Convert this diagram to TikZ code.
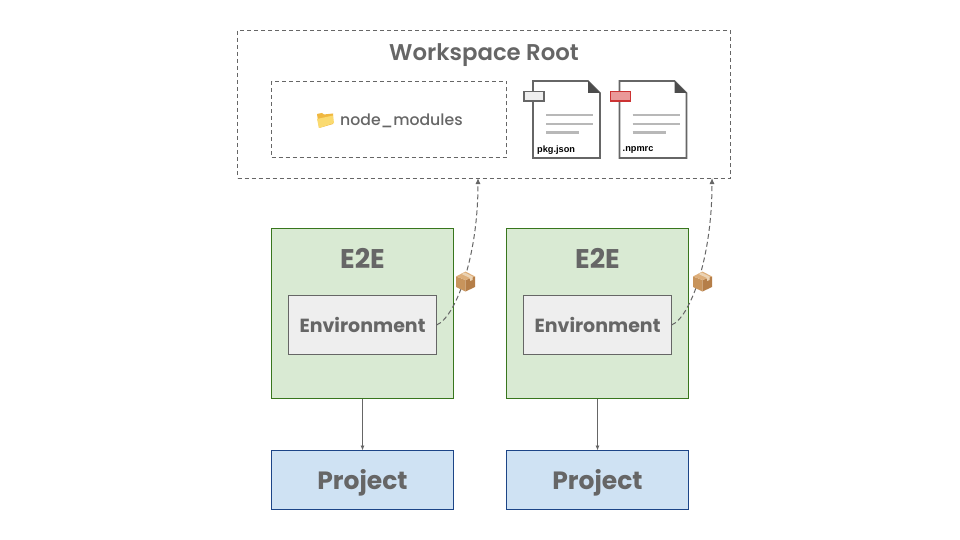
\documentclass[tikz,border=0pt]{standalone}
\usepackage{fontspec}
\setmainfont{Poppins}
\newfontfamily\mediumfont{Poppins Medium}
\newfontfamily\semifont{Poppins SemiBold}
\newfontfamily\labelfont{Liberation Sans}
\usetikzlibrary{arrows.meta}
\definecolor{txt}{HTML}{666666}
\definecolor{greenfill}{HTML}{D9EAD3}
\definecolor{greenline}{HTML}{38761D}
\definecolor{bluefill}{HTML}{CFE2F3}
\definecolor{blueline}{HTML}{1C4587}
\definecolor{envfill}{HTML}{EEEEEE}
\definecolor{boxleft}{HTML}{C8945C}
\definecolor{boxright}{HTML}{B57E48}
\definecolor{boxtop}{HTML}{DDAE7A}
\definecolor{boxtape}{HTML}{EBD3B4}
\definecolor{docred}{HTML}{CC3333}
\definecolor{docredfill}{HTML}{EA9999}
\definecolor{folderback}{HTML}{F0B840}
\definecolor{folderfront}{HTML}{FADA70}
\tikzset{
  box/.style={rectangle,inner sep=0pt,outer sep=0pt,line width=.9pt,text=txt,font=\fontsize{25}{29}\selectfont\bfseries},
  dashbox/.style={box,draw=txt,line width=.8pt,dash pattern=on 4pt off 3pt,minimum width=#1},
  e2e/.style={box,draw=greenline,fill=greenfill,minimum width=182pt,minimum height=170pt},
  env/.style={box,draw=txt,fill=envfill,minimum width=148pt,minimum height=59pt,font=\fontsize{19}{23}\selectfont\bfseries},
  proj/.style={box,draw=blueline,fill=bluefill,minimum width=182pt,minimum height=59pt},
  title/.style={inner sep=0pt,text=txt,font=\fontsize{27}{31}\selectfont\bfseries},
  solidarrow/.style={draw=txt,line width=.8pt,-{Latex[length=5pt,width=4pt]}},
  dasharrow/.style={draw=txt,line width=1pt,dash pattern=on 5pt off 3pt,-{Latex[length=6pt,width=5pt]}},
  docline/.style={draw=black!60,line width=1.6pt},
  textline/.style={draw=black!28,line width=2.8pt}
}
\newcommand{\docicon}[5]{%
  \begin{scope}[shift={(#1,81)}]
    \draw[docline,fill=white,line join=miter] (0,0) -- (55,0) -- (67,12) -- (67,77) -- (0,77) -- cycle;
    \fill[black!70] (55,0) -- (67,12) -- (55,12) -- cycle;
    \draw[textline] (13,34) -- (60,34);
    \draw[textline] (13,43) -- (60,43);
    \draw[textline] (13,51.5) -- (46,51.5);
    \draw[#3,fill=#4,line width=1.6pt] (-9,10.5) rectangle (11,20);
    \node[anchor=west,inner sep=0pt,text=black,font=\labelfont\fontsize{9.2}{11}\selectfont\bfseries] at (#5,69) {#2};
  \end{scope}}
\newcommand{\boxicon}[2]{%
  \begin{scope}[shift={(#1,#2)}]
    \fill[boxleft] (-9.5,-4.5) -- (0,-1) -- (0,10.5) -- (-9.5,6) -- cycle;
    \fill[boxright] (0,-1) -- (9.5,-4.5) -- (9.5,6) -- (0,10.5) -- cycle;
    \fill[boxtop] (-9.5,-4.5) -- (0,-9.5) -- (9.5,-4.5) -- (0,-1) -- cycle;
    \fill[boxtape] (-4,-7) -- (-1,-8.5) -- (7,-4.5) -- (7,-1) -- (4.5,0) -- (4.5,-3) -- cycle;
  \end{scope}}
\begin{document}
\begin{tikzpicture}[x=1pt,y=-1pt]
\useasboundingbox (0,0) rectangle (960,540);
\fill[white] (0,0) rectangle (960,540);

\node[dashbox=493pt,minimum height=147.5pt] (ws) at (484,104.25) {};
\node[inner sep=0pt,text=txt,font=\semifont\fontsize{22.8}{27}\selectfont] (wstitle) at (484,55) {Workspace Root};
\node[dashbox=235pt,minimum height=76pt] (nm) at (389,119.5) {};
\node[inner sep=0pt,text=txt,font=\mediumfont\fontsize{15.7}{19}\selectfont,anchor=west] (nmlabel) at (340,120.5) {node\_modules};
% folder icon
\fill[folderback] (317,114) -- (322,113) -- (324,114.5) -- (333,113.5) -- (333,124) -- (319,128) -- cycle;
\fill[folderfront] (317,119) -- (333,115.5) -- (334,123) -- (319,128) -- cycle;

\docicon{533}{pkg.json}{black!60}{envfill}{4}
\docicon{619.5}{.npmrc}{docred}{docredfill}{3}

\node[e2e] (e1) at (362.5,313.5) {};
\node[e2e] (e2) at (597.5,313.5) {};
\node[title] (t1) at (362.5,258.5) {E2E};
\node[title] (t2) at (597.5,258.5) {E2E};
\node[env] (n1) at (362.5,325) {Environment};
\node[env] (n2) at (597.5,325) {Environment};
\node[proj] (p1) at (362.5,480) {\raisebox{-9pt}[0pt][0pt]{Project}};
\node[proj] (p2) at (597.5,480) {\raisebox{-9pt}[0pt][0pt]{Project}};

\draw[solidarrow] (e1.south) -- (p1.north);
\draw[solidarrow] (e2.south) -- (p2.north);

\coordinate (c1) at (478,178);
\coordinate (c2) at (712,178);
\draw[dasharrow] (n1.east) .. controls +(18,-7) and +(0,82) .. (c1);
\draw[dasharrow] (n2.east) .. controls +(18,-7) and +(0,82) .. (c2);
\boxicon{465.5}{281}
\boxicon{702.5}{281}
\end{tikzpicture}
\end{document}
